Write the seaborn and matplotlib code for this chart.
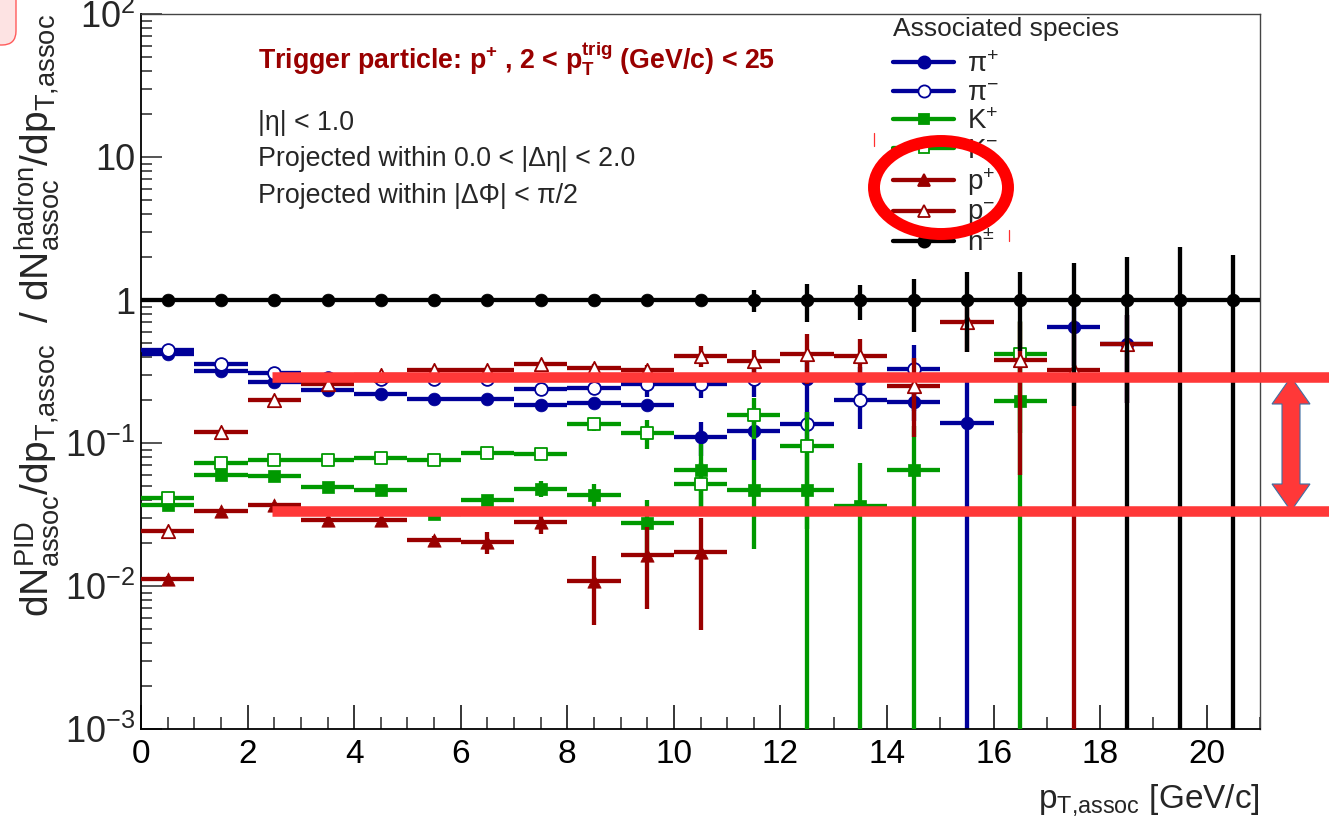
import matplotlib
matplotlib.use("Agg")
import matplotlib.pyplot as plt
import seaborn as sns
import numpy as np
import pandas as pd
from matplotlib.lines import Line2D
from matplotlib.patches import Ellipse, Polygon, FancyBboxPatch
from matplotlib.transforms import Affine2D
from matplotlib.ticker import FixedLocator, FixedFormatter, LogLocator, NullFormatter, MultipleLocator

nan = float("nan")

# ---------------- data ----------------
pt_bins = [0.5, 1.5, 2.5, 3.5, 4.5, 5.5, 6.5, 7.5, 8.5, 9.5, 10.5,
           11.5, 12.5, 13.5, 14.5, 15.5, 16.5, 17.5, 18.5, 19.5, 20.5]
bin_half_width = 0.5

pip = [0.42, 0.32, 0.265, 0.236, 0.22, 0.204, 0.204, 0.183, 0.189, 0.183, 0.111,
       0.121, 0.28, 0.28, 0.193, 0.137, nan, 0.645, 0.49, nan, nan]
pip_err = [0.006, 0.005, 0.004, 0.004, 0.004, 0.004, 0.005, 0.006, 0.01, 0.012, 0.03,
           0.045, 0.13, 0.06, 0.05, 0.15, nan, 0.3, 0.3, nan, nan]

pim = [0.45, 0.356, 0.31, 0.287, 0.28, 0.28, 0.28, 0.24, 0.244, 0.26, 0.257,
       0.28, 0.135, 0.2, 0.328, nan, nan, nan, nan, nan, nan]
pim_err = [0.006, 0.005, 0.005, 0.005, 0.005, 0.006, 0.007, 0.008, 0.02, 0.05, 0.05,
           0.07, 0.03, 0.075, 0.16, nan, nan, nan, nan, nan, nan]

kp = [0.037, 0.06, 0.059, 0.049, 0.047, 0.032, 0.040, 0.048, 0.043, 0.0275, 0.065,
      0.047, 0.047, 0.036, 0.065, nan, 0.197, nan, nan, nan, nan]
kp_err = [0.001, 0.002, 0.002, 0.002, 0.002, 0.002, 0.003, 0.006, 0.009, 0.0125, 0.033,
          0.029, 0.06, 0.037, 0.066, nan, 0.2, nan, nan, nan, nan]

km = [0.041, 0.072, 0.076, 0.076, 0.078, 0.076, 0.085, 0.084, 0.135, 0.118, 0.052,
      0.157, 0.095, nan, nan, nan, 0.418, nan, nan, nan, nan]
km_err = [0.001, 0.002, 0.002, 0.002, 0.002, 0.002, 0.003, 0.005, 0.013, 0.027, 0.02,
          0.05, 0.07, nan, nan, nan, 0.3, nan, nan, nan, nan]

pp = [0.0112, 0.0336, 0.0368, 0.029, 0.0288, 0.0209, 0.0203, 0.028, 0.0108, 0.0164, 0.0173,
      nan, nan, nan, nan, nan, nan, nan, nan, nan, nan]
pp_err = [0.0005, 0.001, 0.0012, 0.0012, 0.0013, 0.0015, 0.0035, 0.005, 0.0055, 0.0095, 0.0124,
          nan, nan, nan, nan, nan, nan, nan, nan, nan, nan]

pm = [0.0243, 0.119, 0.2, 0.26, 0.30, 0.325, 0.325, 0.356, 0.337, 0.325, 0.408,
      0.376, 0.418, 0.403, 0.25, 0.7, 0.38, 0.325, 0.49, nan, nan]
pm_err = [0.001, 0.003, 0.005, 0.007, 0.008, 0.01, 0.012, 0.015, 0.02, 0.025, 0.07,
          0.07, 0.16, 0.13, 0.14, 0.27, 0.32, 0.4, 0.3, nan, nan]

hadron = [1.0, 1.0, 1.0, 1.0, 1.0, 1.0, 1.0, 1.0, 1.0, 1.0, 1.0,
          1.0, 1.0, 1.0, 1.0, 1.0, 1.0, 1.0, 1.0, 1.0, 1.0]
hadron_err = [0.01, 0.01, 0.01, 0.01, 0.012, 0.014, 0.016, 0.02, 0.025, 0.035, 0.06,
              0.17, 0.3, 0.27, 0.4, 0.57, 0.56, 0.82, 1.0, 1.36, 1.05]

species_labels = [r"π$^{+}$", r"π$^{-}$", r"K$^{+}$", r"K$^{-}$", r"p$^{+}$", r"p$^{-}$", r"h$^{\pm}$"]
species_keys = ["pip", "pim", "kp", "km", "pp", "pm", "h"]

y_tick_values = [1e-3, 1e-2, 1e-1, 1, 10, 100]
y_tick_labels = [r"$\mathregular{10^{-3}}$", r"$\mathregular{10^{-2}}$", r"$\mathregular{10^{-1}}$",
                 "1", "10", r"$\mathregular{10^{2}}$"]
x_tick_values = [0, 2, 4, 6, 8, 10, 12, 14, 16, 18, 20]

# ---------------- styles ----------------
BLUE, GREEN, RED, BLACK = "#000099", "#009900", "#990000", "#000000"
style = {
    "pip": dict(color=BLUE, marker="o", filled=True, ms=9.2),
    "pim": dict(color=BLUE, marker="o", filled=False, ms=9.2),
    "kp": dict(color=GREEN, marker="s", filled=True, ms=8.2),
    "km": dict(color=GREEN, marker="s", filled=False, ms=8.2),
    "pp": dict(color=RED, marker="^", filled=True, ms=9.6),
    "pm": dict(color=RED, marker="^", filled=False, ms=9.6),
    "h": dict(color=BLACK, marker="o", filled=True, ms=9.2),
}
values = {"pip": (pip, pip_err), "pim": (pim, pim_err), "kp": (kp, kp_err),
          "km": (km, km_err), "pp": (pp, pp_err), "pm": (pm, pm_err),
          "h": (hadron, hadron_err)}

rows = []
for key in species_keys:
    v, e = values[key]
    for x, yv, ev in zip(pt_bins, v, e):
        rows.append(dict(species=key, pt=x, ratio=yv, err=ev))
df = pd.DataFrame(rows)

# ---------------- figure ----------------
sns.set_theme(style="white")
plt.rcParams["font.family"] = ["Liberation Sans", "DejaVu Sans"]
plt.rcParams["mathtext.fontset"] = "custom"
plt.rcParams["mathtext.rm"] = "Liberation Sans"
plt.rcParams["mathtext.it"] = "Liberation Sans:italic"
plt.rcParams["mathtext.bf"] = "Liberation Sans:bold"
plt.rcParams["mathtext.sf"] = "Liberation Sans"

W, H = 1329, 827
fig = plt.figure(figsize=(W / 100, H / 100), dpi=100)
fig.patch.set_facecolor("white")
ax = fig.add_axes([141 / W, 1 - 729 / H, (1260 - 141) / W, (729 - 14) / H])
ax.set_facecolor("white")
ax.set_yscale("log")
ax.set_xlim(0, 21)
ax.set_ylim(1e-3, 1e2)

for i, key in enumerate(species_keys):
    st = style[key]
    sub = df[df.species == key].dropna()
    z = 2 + i
    ax.errorbar(sub.pt, sub.ratio, xerr=bin_half_width, yerr=sub.err, fmt="none",
                ecolor=st["color"], elinewidth=3.1, capsize=0, zorder=z)
    s = (st["ms"]) ** 2
    if st["filled"]:
        sns.scatterplot(x=sub.pt, y=sub.ratio, marker=st["marker"], s=s, color=st["color"],
                        edgecolor=st["color"], linewidth=0.5, ax=ax, zorder=z + 0.5, legend=False)
    else:
        sns.scatterplot(x=sub.pt, y=sub.ratio, marker=st["marker"], s=s, color="white",
                        edgecolor=st["color"], linewidth=1.3, ax=ax, zorder=z + 0.5, legend=False)

ax.set_xlabel("")
ax.set_ylabel("")

# ticks
ax.xaxis.set_major_locator(FixedLocator(x_tick_values))
ax.xaxis.set_minor_locator(MultipleLocator(0.5))
ax.yaxis.set_major_locator(FixedLocator(y_tick_values))
ax.yaxis.set_major_formatter(FixedFormatter(y_tick_labels))
ax.yaxis.set_minor_locator(LogLocator(base=10, subs=np.arange(2, 10), numticks=20))
ax.yaxis.set_minor_formatter(NullFormatter())
ax.tick_params(axis="x", which="major", direction="in", length=17.3, width=1.1,
               labelsize=24, pad=7, bottom=True, top=False, colors="black")
ax.tick_params(axis="x", which="minor", direction="in", length=8.6, width=1.1,
               bottom=True, top=False)
ax.tick_params(axis="y", which="major", direction="in", length=15, width=1.1,
               labelsize=26, pad=4, left=True, right=False)
ax.tick_params(axis="y", which="minor", direction="in", length=8, width=1.1,
               left=True, right=False)
for side in ["left", "bottom"]:
    ax.spines[side].set_color("black")
    ax.spines[side].set_linewidth(1.3)
for side in ["top", "right"]:
    ax.spines[side].set_color("#444444")
    ax.spines[side].set_linewidth(1.0)

# axis titles
fig.text(37 / W, 1 - 316 / H,
         r"$\mathrm{dN^{PID}_{assoc}/dp_{T{,}assoc}\ \ /\ dN^{hadron}_{assoc}/dp_{T{,}assoc}}$",
         rotation=90, ha="center", va="center", fontsize=28)
fig.text(1260 / W, 1 - 808 / H, r"p$_{\mathrm{T{,}assoc}}$ [GeV/c]", ha="right",
         va="baseline", fontsize=24)

# annotations
fig.text(258 / W, 1 - 69 / H,
         r"Trigger particle: p$^{\mathbf{+}}$ , 2 < p$_{\mathbf{T}}^{\mathbf{trig}}$ (GeV/c) < 25",
         color=RED, fontsize=19.3, fontweight="bold", va="baseline")
fig.text(258 / W, 1 - 130 / H, "|η| < 1.0", fontsize=19.3, va="baseline")
fig.text(258 / W, 1 - 166 / H, "Projected within 0.0 < |Δη| < 2.0", fontsize=19.3, va="baseline")
fig.text(258 / W, 1 - 203 / H, "Projected within |ΔΦ| < π/2", fontsize=19.3, va="baseline")

# legend
handles = []
for key in species_keys:
    st = style[key]
    handles.append(Line2D([0], [0], color=st["color"], lw=3.1, marker=st["marker"],
                          markersize=st["ms"] * 0.95,
                          markerfacecolor=st["color"] if st["filled"] else "white",
                          markeredgecolor=st["color"], markeredgewidth=1.3))
leg = ax.legend(handles, species_labels, title="Associated species", loc="upper left",
                bbox_to_anchor=(893 / W, 1 - 17 / H), bbox_transform=fig.transFigure,
                frameon=False, fontsize=20, title_fontsize=19, handlelength=2.2,
                handletextpad=0.45, labelspacing=0.09, borderpad=0, borderaxespad=0)
leg._legend_box.align = "left"
leg._legend_box.sep = 8

# ---------------- overlay marks from the slide ----------------
pixT = Affine2D().scale(1 / 100, -1 / 100).translate(0, H / 100) + fig.dpi_scale_trans
ANN = "#ff3838"
fig.add_artist(FancyBboxPatch((-40, -40), 56, 85, boxstyle="round,pad=0,rounding_size=14",
                              fc="#fde3e3", ec="#ff5a5a", lw=1.0, transform=pixT))
fig.add_artist(Line2D([272, 1329], [377, 377], color=ANN, lw=7.6, solid_capstyle="butt",
                      transform=pixT))
fig.add_artist(Line2D([272, 1329], [511, 511], color=ANN, lw=7.6, solid_capstyle="butt",
                      transform=pixT))
arrow_pts = [(1291, 377), (1272, 404), (1282, 404), (1282, 484), (1272, 484), (1291, 511),
             (1310, 484), (1300, 484), (1300, 404), (1310, 404)]
fig.add_artist(Polygon(arrow_pts, closed=True, fc=ANN, ec="#3f6fa3", lw=0.8, transform=pixT))
fig.add_artist(Ellipse((941, 187.5), 134, 93, fill=False, ec="#ff0000", lw=8.6, transform=pixT))
fig.add_artist(Line2D([874, 874], [133, 146], color="#ff3030", lw=0.9, transform=pixT))
fig.add_artist(Line2D([1009, 1009], [230, 241], color="#ff3030", lw=0.9, transform=pixT))

fig.savefig("out.png", dpi=100)
